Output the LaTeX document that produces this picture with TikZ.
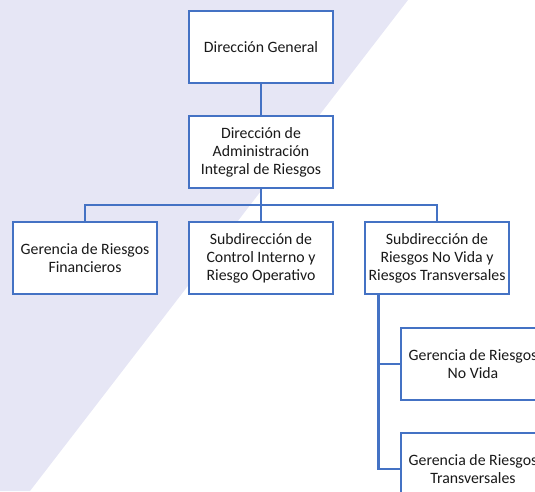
\documentclass[tikz,border=0pt]{standalone}
\usepackage{fontspec}
\setmainfont{Carlito}
\definecolor{orgblue}{HTML}{4472C4}
\definecolor{lavanda}{RGB}{230,230,245}
\tikzset{
  caja/.style={draw=orgblue,line width=2.2pt,fill=white,minimum width=144pt,minimum height=72pt,
    align=center,inner sep=0pt,text=black!90,font=\fontsize{15.8}{18}\selectfont},
  enlace/.style={draw=orgblue,line width=2.2pt}
}
\begin{document}
\begin{tikzpicture}[x=1pt,y=-1pt]
\clip(0,0)rectangle(535,491);
\fill[lavanda](0,0)--(408,0)--(30,491)--(0,491)--cycle;
\node[caja](dg)at(261,47){Dirección General};
\node[caja](dair)at(261,152){Dirección de\\Administración\\Integral de Riesgos};
\node[caja](grf)at(85,258){Gerencia de Riesgos\\Financieros};
\node[caja](sciro)at(261,258){Subdirección de\\Control Interno y\\Riesgo Operativo};
\node[caja](srnv)at(437,258){Subdirección de\\Riesgos No Vida y\\Riesgos Transversales};
\node[caja](grnv)at(473,364){Gerencia de Riesgos\\No Vida};
\node[caja](grt)at(473,469){Gerencia de Riesgos\\Transversales};
\coordinate(bus)at(261,205);
\coordinate(trunk)at([xshift=-58.5pt]srnv.south);
\draw[enlace](dg)--(dair);
\draw[enlace](dair)--(bus)-|(grf);
\draw[enlace](bus)-|(srnv);
\draw[enlace](bus)--(sciro);
\draw[enlace](trunk)|-(grnv);
\draw[enlace](trunk)|-(grt);
\end{tikzpicture}
\end{document}
